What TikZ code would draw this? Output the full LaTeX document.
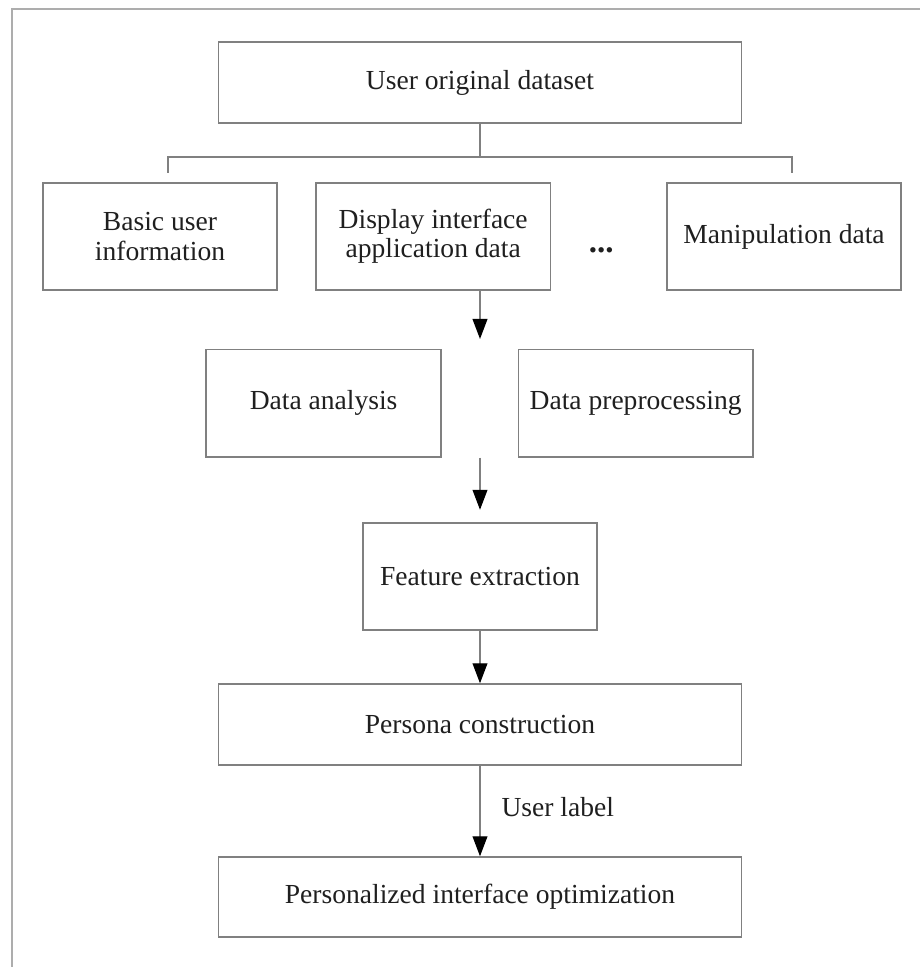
\documentclass[tikz,border=0pt]{standalone}
\usepackage{fontspec}
\setmainfont{Liberation Serif}
\usetikzlibrary{arrows.meta}
\definecolor{linegray}{gray}{0.5}
\definecolor{framegray}{gray}{0.68}
\definecolor{textgray}{gray}{0.12}
\tikzset{
  box/.style={draw=linegray, line width=1pt, minimum width=5.85cm, minimum height=2.68cm,
    align=center, inner sep=0pt, text=textgray},
  widebox/.style={box, minimum width=13.08cm, minimum height=2.03cm},
  flow/.style={draw=linegray, line width=1pt, -{Triangle[length=0.5cm, width=0.37cm, black]}},
  tree/.style={draw=linegray, line width=1pt}
}
\begin{document}
\begin{tikzpicture}[font=\fontsize{19.6pt}{20.8pt}\selectfont]
  \useasboundingbox (0,0) rectangle (23,24.175);
  % outer frame, cut off at the right and bottom
  \draw[framegray, line width=1.4pt] (0.3,0) -- (0.3,23.94) -- (23,23.94);

  \node[widebox] (dataset) at (12,22.11) {User original dataset};
  \node[box] (basic) at (4.0,18.26) {Basic user\\information};
  \node[box] (display) at (10.83,18.26) {Display interface\\application data};
  \node[box] (manip) at (19.6,18.26) {Manipulation data};
  \node[anchor=base, text=textgray, scale=1.2] (dots) at (15.03,17.85) {\textbf{...}};

  \node[box, minimum width=5.87cm] (analysis) at (8.09,14.09) {Data analysis};
  \node[box, minimum width=5.87cm] (prep) at (15.89,14.09) {Data preprocessing};
  \node[box] (feature) at (12,9.76) {Feature extraction};
  \node[widebox] (persona) at (12,6.06) {Persona construction};
  \node[widebox, minimum height=2cm] (optim) at (12,1.75) {Personalized interface optimization};

  % branching from the dataset
  \coordinate (fork) at (12,20.25);
  \coordinate (forkl) at (4.2,20.25);
  \coordinate (forkr) at (19.8,20.25);
  \draw[tree] (dataset.south) -- (fork);
  \draw[tree] (forkl) ++(0,-0.39) -- (forkl) -- (forkr) -- ++(0,-0.39);

  % arrows down the middle
  \coordinate (tip1) at (12,15.7);
  \coordinate (tip2) at (12,11.43);
  \draw[flow] (display.south -| fork) -- (tip1);
  \draw[flow] (analysis.south -| fork) -- (tip2);
  \draw[flow] (feature.south) -- (persona.north);
  \draw[flow] (persona.south) -- node[right=0.52cm, inner sep=0pt, text=textgray, yshift=0.1cm] {User label} (optim.north);
\end{tikzpicture}
\end{document}
